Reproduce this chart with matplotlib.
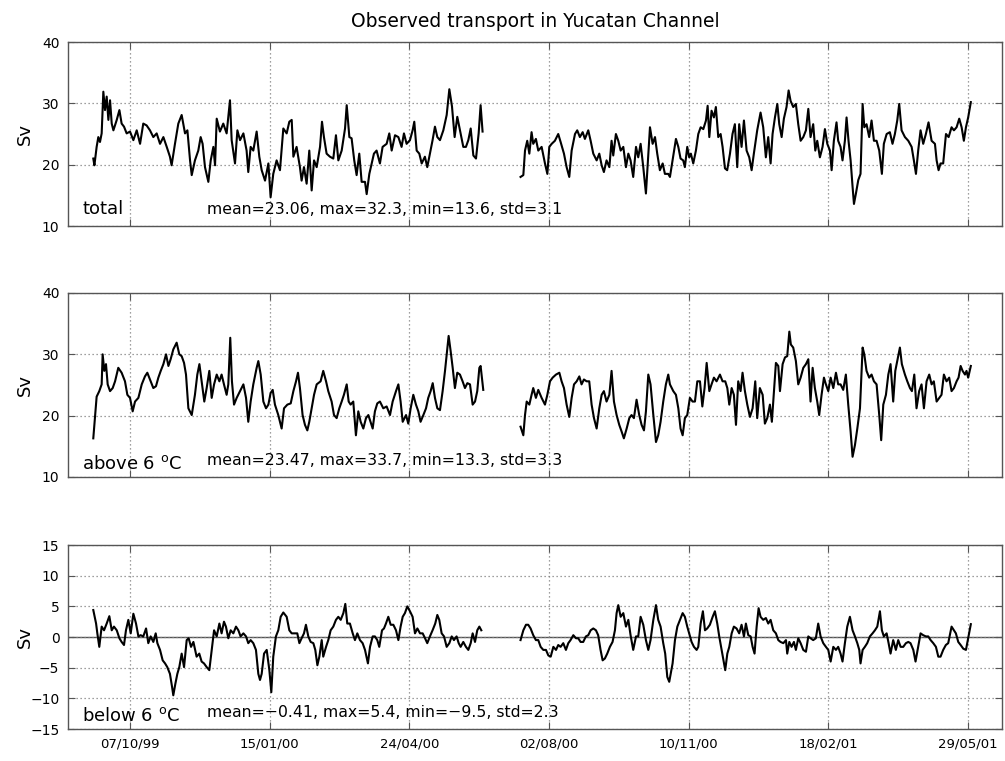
import numpy as np
import matplotlib.pyplot as plt
import matplotlib.dates as mdates

# (day since 07/10/99, transport in Sv); each series has a gap in mid 2000
total_a = [(-26.3, 21.0), (-25.5, 19.9), (-23.9, 22.9), (-22.7, 24.5), (-21.5, 23.7), (-20.3, 25.1),
           (-19.1, 31.9), (-17.9, 28.9), (-16.7, 31.1), (-15.5, 27.3), (-14.3, 30.5), (-13.1, 26.7),
           (-11.9, 25.6), (-9.5, 27.3), (-7.6, 28.9), (-6.0, 26.7), (-4.3, 26.2), (-2.4, 25.1),
           (0.0, 25.4), (2.4, 24.0), (4.8, 25.6), (7.2, 23.4), (9.5, 26.7), (11.9, 26.4), (14.3, 25.6),
           (16.7, 24.5), (19.1, 25.1), (21.5, 23.4), (23.9, 24.5), (26.3, 22.9), (28.6, 21.3),
           (29.8, 19.9), (32.2, 23.4), (34.6, 26.7), (37.0, 28.1), (39.4, 25.1), (41.1, 25.6),
           (43.0, 20.7), (44.2, 18.3), (46.5, 20.7), (48.9, 22.3), (50.6, 24.5), (52.0, 23.4),
           (53.7, 19.6), (56.1, 17.2), (57.8, 20.7), (59.7, 22.9), (60.9, 19.9), (62.1, 27.5),
           (64.4, 25.4), (66.8, 26.7), (69.2, 25.1), (71.6, 30.5), (72.8, 24.0), (75.2, 20.2),
           (76.9, 25.6), (78.8, 24.0), (81.2, 25.1), (83.5, 22.3), (84.7, 18.8), (86.4, 22.9),
           (88.3, 22.3), (90.7, 25.4), (92.6, 21.3), (94.3, 19.1), (96.7, 17.4), (99.1, 20.2),
           (100.7, 14.7), (102.6, 18.5), (105.0, 20.7), (107.4, 19.1), (109.8, 25.9), (112.2, 25.1),
           (114.1, 27.0), (115.8, 27.3), (117.0, 21.3), (119.3, 22.9), (121.7, 19.6), (122.9, 17.4),
           (124.6, 19.6), (126.5, 16.9), (128.4, 22.3), (130.1, 15.8), (131.8, 20.7), (133.7, 19.6),
           (136.1, 22.9), (137.5, 27.0), (138.9, 24.5), (140.8, 21.8), (143.2, 21.3), (145.6, 21.0),
           (147.5, 24.8), (149.2, 20.7), (151.6, 22.3), (154.0, 25.9), (155.2, 29.7), (157.1, 24.5),
           (158.7, 24.3), (160.6, 20.7), (162.3, 18.3), (164.2, 21.8), (165.9, 17.2), (168.3, 17.2),
           (169.5, 15.2), (171.4, 18.5), (173.1, 20.2), (174.7, 21.8), (176.6, 22.3), (179.0, 20.2),
           (180.9, 22.9), (183.8, 23.4), (185.7, 25.1), (187.4, 22.3), (189.8, 24.8), (192.2, 24.5),
           (194.5, 22.9), (196.2, 25.1), (198.1, 23.4), (200.5, 24.0), (202.4, 25.6), (203.6, 27.0),
           (205.3, 22.3), (207.2, 21.8), (208.9, 20.2), (211.2, 21.3), (212.9, 19.6), (214.8, 21.8),
           (216.7, 24.0), (218.4, 26.2), (220.1, 24.5), (222.0, 24.0), (224.4, 25.6), (226.8, 28.1),
           (228.7, 32.3), (230.6, 29.5), (232.5, 24.5), (234.4, 27.8), (236.3, 25.6), (238.7, 22.9),
           (240.6, 22.9), (242.3, 24.0), (244.0, 25.9), (245.9, 21.5), (247.8, 21.0), (249.7, 25.1),
           (251.1, 29.7), (252.5, 25.4)]
total_b = [(279.7, 18.0), (281.7, 18.3), (282.9, 22.3), (284.5, 23.9), (286.0, 21.8), (287.6, 25.3),
           (288.8, 23.4), (290.7, 24.2), (292.4, 22.3), (294.8, 22.9), (297.2, 20.2), (298.9, 18.5),
           (300.3, 22.9), (302.0, 23.4), (304.3, 23.9), (306.7, 25.0), (308.4, 23.7), (310.8, 21.8),
           (312.7, 19.6), (314.6, 18.0), (316.3, 22.3), (318.7, 25.0), (320.3, 25.6), (322.2, 24.5),
           (324.2, 25.3), (325.8, 24.2), (328.2, 25.6), (329.9, 23.9), (331.8, 21.8), (334.2, 20.7),
           (336.1, 21.8), (337.8, 19.9), (339.4, 18.8), (341.3, 20.7), (343.3, 19.6), (344.9, 23.9),
           (346.1, 21.5), (348.0, 25.0), (349.7, 23.9), (351.4, 22.3), (353.3, 22.9), (355.2, 19.6),
           (356.9, 21.8), (358.5, 20.7), (360.4, 18.0), (362.4, 22.9), (364.0, 21.2), (365.7, 23.4),
           (367.6, 19.6), (369.5, 15.3), (371.2, 21.8), (372.4, 26.1), (374.3, 23.4), (376.0, 24.5),
           (377.6, 21.8), (379.5, 19.1), (381.5, 20.2), (383.1, 18.5), (385.5, 18.5), (386.7, 18.0),
           (388.6, 20.7), (391.0, 24.2), (392.7, 22.9), (394.3, 21.0), (396.2, 20.7), (397.4, 19.6),
           (399.1, 22.9), (400.5, 21.2), (401.7, 21.8), (403.4, 20.2), (405.3, 22.3), (407.0, 25.0),
           (408.7, 26.1), (410.6, 25.8), (412.5, 27.2), (413.7, 29.6), (414.9, 24.5), (416.5, 28.8),
           (418.2, 27.7), (419.6, 29.4), (421.3, 24.5), (423.0, 25.0), (424.4, 22.9), (426.1, 19.4),
           (427.7, 19.1), (429.7, 21.8), (431.5, 25.0), (433.2, 26.6), (434.9, 19.6), (436.3, 26.6),
           (438.0, 22.9), (439.7, 27.2), (441.6, 22.3), (443.5, 21.2), (445.2, 19.1), (446.8, 21.8),
           (449.2, 25.6), (451.6, 28.5), (453.5, 26.1), (455.4, 21.2), (457.1, 24.5), (458.8, 20.2),
           (460.2, 25.0), (461.9, 27.7), (463.6, 29.9), (465.0, 26.6), (466.7, 24.5), (468.3, 27.5),
           (470.2, 29.4), (471.7, 32.1), (473.1, 30.4), (475.0, 29.4), (476.9, 29.9), (478.6, 26.6),
           (480.3, 23.9), (482.2, 24.5), (484.1, 25.6), (485.8, 29.1), (487.4, 24.5), (489.3, 26.6),
           (490.8, 22.3), (492.2, 23.9), (494.1, 21.2), (496.0, 22.9), (497.7, 25.8), (499.4, 23.4),
           (501.3, 22.3), (502.5, 19.1), (504.1, 23.9), (506.0, 26.9), (507.2, 23.9), (508.9, 22.9),
           (510.3, 20.7), (512.0, 23.9), (513.2, 27.7), (514.6, 23.9), (516.1, 20.7), (517.5, 16.4),
           (518.5, 13.6), (519.9, 15.3), (521.6, 17.5), (523.2, 18.5), (524.7, 29.9), (525.9, 26.1),
           (527.5, 26.6), (529.4, 24.5), (531.1, 27.2), (532.8, 23.9), (534.7, 23.9), (536.6, 22.3),
           (538.5, 18.5), (539.9, 23.4), (541.9, 25.0), (544.2, 25.3), (546.1, 23.4), (547.8, 25.0),
           (549.5, 27.2), (550.9, 29.9), (552.6, 25.6), (555.0, 24.5), (557.4, 23.9), (559.8, 22.9),
           (561.4, 20.7), (562.9, 18.5), (564.5, 22.3), (566.2, 25.6), (568.1, 23.4), (570.0, 25.0),
           (571.9, 26.9), (574.1, 23.9), (576.5, 23.4), (577.7, 20.7), (579.1, 19.1), (580.5, 20.2),
           (582.4, 20.2), (584.4, 25.0), (586.3, 24.5), (588.4, 26.1), (590.1, 25.6), (592.0, 26.1),
           (593.9, 27.5), (595.6, 26.1), (597.2, 23.9), (598.7, 26.1), (600.3, 27.7), (602.2, 30.2)]

above_a = [(-26.3, 16.3), (-25.1, 19.6), (-23.9, 23.1), (-22.0, 24.0), (-20.3, 25.1), (-19.6, 30.0),
           (-18.4, 27.3), (-17.2, 28.4), (-16.0, 25.1), (-14.3, 24.0), (-12.4, 24.5), (-10.7, 25.6),
           (-8.4, 27.8), (-6.0, 27.0), (-3.6, 25.6), (-1.9, 23.4), (0.0, 22.9), (1.9, 20.7), (3.6, 22.3),
           (6.0, 22.9), (8.4, 25.1), (10.7, 26.4), (12.4, 27.0), (14.8, 25.6), (16.7, 24.5), (18.6, 24.8),
           (20.3, 26.2), (22.0, 27.3), (23.9, 28.4), (25.8, 30.0), (27.5, 28.1), (29.1, 29.2),
           (31.0, 30.8), (33.4, 31.9), (35.3, 30.0), (37.0, 29.7), (38.7, 28.6), (40.1, 26.7),
           (41.8, 21.2), (44.2, 20.1), (46.5, 23.4), (48.2, 26.7), (49.7, 28.4), (51.3, 25.6),
           (53.2, 22.3), (54.9, 24.5), (56.8, 27.3), (58.5, 22.9), (60.2, 25.1), (62.1, 26.7),
           (64.0, 25.6), (65.6, 26.7), (67.3, 25.1), (69.2, 23.4), (70.4, 25.1), (71.8, 32.7),
           (73.0, 25.6), (74.5, 21.8), (76.4, 22.9), (78.8, 24.0), (81.2, 25.1), (83.1, 22.9),
           (84.7, 19.0), (86.4, 22.3), (88.3, 25.1), (90.7, 27.8), (91.9, 28.9), (93.6, 26.7),
           (95.5, 22.3), (97.4, 21.2), (99.1, 21.8), (100.7, 23.7), (102.2, 24.2), (103.8, 21.8),
           (106.2, 20.1), (108.6, 17.9), (110.3, 21.2), (112.7, 21.8), (115.1, 22.0), (117.0, 24.0),
           (118.9, 25.6), (120.3, 27.0), (121.7, 24.5), (123.6, 20.1), (125.3, 18.5), (127.0, 17.6),
           (128.4, 19.0), (130.1, 21.2), (131.8, 23.4), (133.7, 25.1), (136.5, 25.6), (138.4, 27.3),
           (140.4, 25.6), (142.0, 24.0), (144.4, 22.3), (146.1, 20.1), (148.0, 19.6), (149.9, 21.2),
           (151.6, 22.3), (153.2, 23.4), (155.2, 25.1), (156.6, 22.3), (158.0, 21.8), (159.9, 22.3),
           (161.8, 16.8), (163.5, 20.7), (165.2, 19.0), (167.1, 17.9), (169.0, 19.6), (170.7, 20.1),
           (173.8, 17.9), (175.4, 20.7), (177.1, 22.0), (179.0, 22.3), (181.4, 21.2), (183.8, 21.5),
           (186.2, 20.1), (188.1, 22.3), (190.5, 24.0), (192.2, 25.1), (193.8, 22.3), (195.3, 19.0),
           (197.7, 20.1), (199.3, 18.7), (201.0, 21.2), (202.9, 23.4), (204.8, 21.8), (206.5, 20.7),
           (208.1, 19.0), (210.1, 20.1), (212.0, 21.2), (213.6, 22.9), (215.3, 24.0), (216.8, 25.3),
           (218.4, 22.9), (220.1, 21.2), (222.0, 20.9), (223.9, 24.0), (225.6, 27.3), (226.8, 30.0),
           (228.2, 33.0), (229.6, 30.6), (231.1, 27.8), (232.7, 24.5), (234.4, 27.0), (236.3, 26.7),
           (238.2, 25.6), (239.9, 24.5), (241.6, 25.3), (243.5, 25.1), (245.4, 21.8), (247.1, 22.3),
           (248.7, 24.0), (250.2, 27.8), (251.1, 28.1), (253.0, 24.2)]
above_b = [(279.7, 18.2), (281.7, 16.8), (282.9, 20.1), (284.1, 22.3), (286.0, 21.8), (287.6, 23.4),
           (288.8, 24.5), (290.7, 22.9), (292.4, 24.2), (294.8, 22.9), (297.2, 21.8), (298.9, 23.4),
           (300.8, 25.6), (302.7, 26.2), (305.1, 26.7), (307.5, 27.0), (309.1, 25.6), (310.8, 24.5),
           (312.7, 21.8), (314.6, 19.8), (316.3, 22.9), (318.0, 25.1), (319.9, 25.6), (321.8, 26.4),
           (323.4, 25.1), (325.1, 25.9), (327.0, 25.6), (328.9, 25.6), (330.6, 21.8), (332.3, 19.6),
           (334.2, 17.9), (336.1, 21.2), (337.8, 23.4), (339.4, 24.0), (341.3, 22.3), (343.3, 23.4),
           (344.9, 27.3), (346.6, 22.3), (348.5, 20.1), (350.4, 18.5), (352.1, 17.4), (353.7, 16.3),
           (355.7, 17.9), (357.6, 19.6), (359.2, 20.1), (360.9, 19.6), (362.8, 22.6), (364.7, 20.1),
           (366.4, 18.5), (368.1, 17.6), (369.5, 20.7), (371.2, 26.7), (372.8, 25.1), (374.8, 20.1),
           (376.7, 15.7), (378.3, 16.8), (380.0, 19.0), (381.9, 22.3), (383.8, 25.1), (385.5, 26.7),
           (386.7, 25.1), (389.1, 24.0), (391.0, 23.4), (392.7, 21.2), (394.3, 17.9), (395.8, 16.8),
           (397.4, 19.6), (399.1, 20.1), (401.0, 22.9), (402.9, 22.3), (404.6, 22.3), (406.3, 25.6),
           (408.2, 25.6), (409.9, 21.5), (411.5, 24.5), (413.0, 28.6), (414.9, 24.0), (416.5, 25.1),
           (418.2, 26.2), (420.1, 25.6), (422.5, 26.7), (424.4, 25.6), (426.3, 25.6), (427.8, 24.5),
           (429.2, 21.8), (430.9, 24.5), (432.5, 23.4), (434.0, 18.5), (435.6, 25.6), (437.3, 24.0),
           (438.7, 27.0), (440.4, 24.0), (442.1, 21.8), (444.0, 19.8), (445.9, 21.2), (447.8, 25.6),
           (449.2, 19.6), (451.1, 24.5), (453.1, 23.4), (454.7, 18.7), (456.4, 19.6), (458.3, 21.8),
           (459.7, 19.0), (461.2, 24.0), (462.6, 28.6), (464.3, 28.1), (465.5, 24.0), (467.4, 28.4),
           (469.1, 29.5), (470.7, 29.7), (472.2, 33.7), (473.3, 31.6), (475.0, 31.1), (476.9, 28.9),
           (478.6, 25.1), (480.3, 26.2), (482.2, 27.8), (484.1, 28.4), (485.8, 29.2), (487.4, 22.3),
           (488.9, 27.8), (490.5, 24.5), (492.2, 22.3), (493.6, 20.1), (495.3, 23.4), (497.0, 26.2),
           (498.4, 25.1), (500.1, 24.0), (501.8, 26.2), (503.7, 24.5), (505.6, 27.0), (507.2, 25.1),
           (508.9, 25.1), (510.8, 24.2), (512.7, 26.7), (514.4, 21.8), (516.1, 17.4), (517.5, 13.3),
           (519.2, 15.2), (520.9, 17.9), (522.8, 21.2), (524.7, 31.1), (525.9, 30.0), (527.5, 27.3),
           (529.4, 26.2), (531.1, 26.7), (532.8, 25.6), (534.7, 25.1), (536.6, 20.1), (538.0, 16.0),
           (539.5, 21.8), (541.4, 23.4), (543.1, 26.7), (544.7, 28.4), (546.6, 22.3), (548.1, 27.3),
           (549.5, 28.9), (551.4, 31.1), (552.8, 28.4), (555.0, 26.7), (556.7, 25.6), (558.6, 24.5),
           (560.0, 24.0), (561.7, 26.7), (563.3, 21.2), (565.2, 24.0), (566.9, 25.1), (568.6, 21.2),
           (570.5, 25.6), (572.4, 26.7), (574.1, 25.1), (575.7, 25.6), (577.7, 22.3), (579.6, 22.9),
           (581.2, 23.4), (582.9, 26.7), (584.8, 25.6), (586.7, 26.2), (588.4, 24.0), (590.1, 24.5),
           (592.0, 25.6), (593.4, 26.2), (594.9, 28.1), (596.3, 27.3), (598.0, 26.7), (599.1, 27.3),
           (600.3, 26.2), (602.2, 28.1)]

below_a = [(-26.3, 4.4), (-24.3, 2.2), (-23.4, 0.6), (-22.0, -1.6), (-20.3, 1.7), (-18.6, 1.1),
           (-16.7, 2.2), (-14.8, 3.4), (-13.1, 1.1), (-11.5, 1.7), (-9.5, 1.1), (-7.6, -0.2),
           (-6.0, -0.8), (-4.3, -1.3), (-2.9, 1.1), (-1.2, 2.8), (0.5, 0.6), (2.4, 3.8), (4.3, 2.2),
           (6.0, 0.1), (7.6, 0.3), (9.5, 0.1), (11.5, 1.4), (13.1, -1.0), (14.8, 0.1), (16.7, -0.8),
           (18.4, 0.6), (19.6, -1.0), (21.5, -2.1), (23.4, -3.8), (25.1, -4.3), (26.7, -4.9),
           (28.6, -6.0), (30.1, -8.1), (31.0, -9.5), (32.5, -7.6), (33.9, -6.0), (35.3, -4.9),
           (37.0, -2.7), (38.7, -4.9), (40.6, -0.5), (42.0, -0.2), (43.7, -1.6), (45.4, -0.8),
           (47.7, -3.2), (49.6, -2.7), (51.3, -4.0), (53.0, -4.3), (54.9, -4.9), (56.8, -5.4),
           (58.5, -2.1), (60.2, 1.1), (62.1, 0.1), (64.0, 2.2), (65.6, 0.6), (67.3, 2.5), (68.7, 1.7),
           (70.4, -0.2), (72.1, 1.1), (74.0, 0.6), (75.9, 1.7), (77.6, 1.1), (79.2, 0.1), (81.2, 0.6),
           (83.1, 0.1), (84.7, -1.0), (86.4, -0.5), (88.3, -1.0), (90.2, -2.1), (91.9, -6.0),
           (93.1, -7.0), (94.3, -6.0), (96.0, -2.7), (97.9, -2.1), (99.8, -5.4), (101.2, -9.0),
           (102.6, -3.2), (104.5, 0.1), (106.2, 1.1), (107.9, 3.3), (109.8, 4.0), (112.2, 3.3),
           (114.1, 1.1), (115.8, 0.6), (118.2, 0.6), (119.8, 0.6), (121.3, -1.0), (122.9, -0.2),
           (124.6, 0.6), (126.0, 2.0), (127.7, 0.1), (129.4, -0.8), (131.3, -1.0), (132.7, -2.1),
           (134.2, -4.6), (135.6, -3.2), (137.3, -0.5), (138.4, -3.2), (140.4, -1.6), (142.0, -0.5),
           (143.7, 1.1), (145.6, 1.7), (147.5, 2.8), (149.2, 3.3), (150.9, 2.8), (152.8, 3.9),
           (154.2, 5.4), (155.6, 2.2), (157.5, 2.2), (159.5, 0.6), (161.1, -0.5), (162.8, 0.6),
           (164.7, -0.5), (166.6, -1.0), (168.3, -2.1), (170.4, -4.3), (171.9, -1.6), (173.8, 0.1),
           (175.4, 0.1), (177.1, -0.5), (178.5, -1.6), (180.5, 1.1), (181.9, 1.4), (183.3, 2.2),
           (185.0, 3.3), (186.7, 2.0), (188.6, 2.0), (190.5, 1.1), (192.2, -0.5), (193.8, 1.7),
           (195.3, 3.3), (196.9, 3.9), (198.6, 5.0), (200.5, 4.2), (202.4, 3.3), (204.1, 0.6),
           (205.8, 1.4), (207.7, 0.6), (209.6, 0.6), (211.3, -0.2), (212.9, -1.0), (214.8, 0.1),
           (216.7, 1.1), (218.6, 2.2), (220.1, 3.6), (221.5, 2.8), (223.2, 0.6), (224.9, 0.1),
           (226.8, -1.6), (228.7, -1.0), (230.4, 0.1), (232.0, -0.5), (233.9, 0.1), (235.4, -1.0),
           (236.8, -1.6), (238.7, -0.8), (240.6, -1.6), (242.3, -2.1), (244.0, -1.0), (245.4, 0.6),
           (247.1, -0.8), (248.7, 1.1), (250.2, 1.7), (251.6, 1.1)]
below_b = [(279.7, -0.5), (281.7, 1.1), (283.6, 2.0), (285.2, 2.0), (286.9, 1.4), (288.8, 0.3),
           (290.7, -0.5), (292.4, -0.5), (294.1, -1.6), (296.0, -2.1), (297.9, -2.1), (299.6, -3.0),
           (301.3, -3.2), (303.2, -1.6), (305.1, -2.1), (306.7, -1.3), (308.4, -1.6), (310.3, -1.0),
           (312.2, -2.1), (313.9, -1.0), (315.5, -0.5), (317.5, 0.3), (319.4, -0.2), (321.0, -0.2),
           (322.7, -0.8), (324.6, -0.8), (326.5, 0.1), (328.2, 0.3), (329.9, 1.1), (331.8, 1.4),
           (333.7, 1.1), (335.3, 0.3), (337.0, -2.1), (338.5, -3.8), (340.1, -3.5), (341.8, -2.7),
           (343.7, -1.6), (345.6, -0.8), (347.3, 1.1), (348.5, 3.9), (349.7, 5.2), (351.4, 3.3),
           (353.3, 3.9), (355.2, 1.7), (356.9, 2.8), (358.5, 0.3), (360.4, -2.1), (362.4, 0.1),
           (364.0, 0.1), (365.7, 3.3), (367.6, 2.0), (369.5, -0.5), (371.2, -2.1), (372.8, -0.5),
           (374.8, 2.8), (376.7, 5.2), (378.3, 2.8), (380.0, 1.7), (381.9, -1.0), (383.3, -2.7),
           (384.8, -6.5), (386.2, -7.3), (388.6, -4.3), (390.3, -0.5), (392.0, 1.7), (393.9, 2.8),
           (395.8, 3.9), (397.4, 3.3), (399.1, 1.7), (400.5, 0.6), (402.2, -0.8), (403.9, -1.6),
           (405.8, -2.1), (407.0, -1.6), (408.7, 2.2), (410.3, 4.2), (411.8, 1.1), (413.4, 1.4),
           (415.3, 2.0), (417.3, 3.3), (418.9, 4.2), (420.6, 2.2), (422.0, 0.1), (423.7, -2.1),
           (425.4, -4.3), (426.3, -5.4), (427.8, -2.7), (429.2, -1.6), (430.9, 0.6), (432.5, 1.7),
           (434.4, 1.4), (436.3, 0.6), (438.0, 2.0), (439.7, 0.1), (441.1, 2.2), (442.8, 0.3),
           (444.5, 0.1), (445.9, -1.6), (447.3, -2.7), (448.8, 1.7), (450.2, 4.7), (451.6, 3.3),
           (453.5, 2.8), (455.4, 3.1), (457.1, 2.2), (458.8, 2.8), (460.7, 1.1), (462.6, 0.6),
           (464.3, -0.5), (465.9, -0.8), (467.9, -1.0), (469.8, -0.5), (470.7, -2.7), (472.2, -0.8),
           (473.8, -1.6), (475.5, -0.8), (476.9, -2.1), (478.6, -0.2), (480.3, -1.0), (482.2, -2.1),
           (484.1, -2.4), (485.8, 0.1), (487.4, -0.2), (489.3, -0.5), (491.2, -0.2), (492.9, 2.2),
           (494.6, 0.1), (496.5, -1.0), (498.4, -1.6), (500.1, -2.1), (501.8, -4.0), (503.7, -1.6),
           (505.6, -2.1), (507.2, -1.6), (508.9, -2.7), (510.3, -4.0), (512.0, -1.0), (513.7, 1.7),
           (515.6, 3.3), (517.5, 1.1), (519.2, 0.1), (520.9, -1.0), (522.3, -2.1), (523.2, -4.3),
           (524.7, -2.1), (526.3, -1.6), (528.0, -1.0), (529.9, 0.1), (531.8, 0.6), (533.5, 1.1),
           (535.2, 1.7), (537.1, 4.2), (538.5, 1.1), (539.9, 0.1), (541.9, 0.6), (543.3, -1.0),
           (544.7, -2.7), (546.6, -0.5), (548.5, -2.1), (550.2, -0.5), (551.9, -1.6), (553.8, -1.6),
           (555.7, -1.0), (557.4, -0.8), (559.0, -1.0), (561.0, -2.1), (562.6, -4.0), (564.5, -1.6),
           (566.2, 0.6), (568.1, 0.3), (570.0, 0.1), (571.7, 0.1), (573.4, -0.5), (575.3, -1.0),
           (577.2, -1.6), (578.9, -3.2), (580.5, -3.2), (582.4, -2.1), (584.3, -1.3), (586.0, -1.0),
           (588.4, 1.7), (590.1, 1.1), (591.5, 0.6), (593.2, -0.8), (594.9, -1.3), (596.8, -1.9),
           (598.7, -2.1), (600.3, -0.2), (602.2, 2.1)]

names = ['total', 'above 6 $^{\\mathrm{o}}$C', 'below 6 $^{\\mathrm{o}}$C']
stats = ['mean=23.06, max=32.3, min=13.6, std=3.1',
         'mean=23.47, max=33.7, min=13.3, std=3.3',
         'mean=\u22120.41, max=5.4, min=\u22129.5, std=2.3']
tick_days = [0, 100, 200, 300, 400, 500, 600]
tick_labels = ['07/10/99', '15/01/00', '24/04/00', '02/08/00', '10/11/00', '18/02/01', '29/05/01']

t0 = mdates.date2num(np.datetime64('1999-10-07'))


def to_xy(pairs_a, pairs_b):
    # join the two stretches with a NaN so the gap is left blank
    a = np.array(pairs_a)
    b = np.array(pairs_b)
    d = np.concatenate([a[:, 0], [np.nan], b[:, 0]])
    v = np.concatenate([a[:, 1], [np.nan], b[:, 1]])
    return t0 + d, v


series = [to_xy(total_a, total_b), to_xy(above_a, above_b), to_xy(below_a, below_b)]
ylims = [(10, 40), (10, 40), (-15, 15)]
yticks = [[10, 20, 30, 40], [10, 20, 30, 40], [-15, -10, -5, 0, 5, 10, 15]]
bottoms = [0.703, 0.3732, 0.042]
name_y = [0.065, 0.043, 0.043]

fig = plt.figure(figsize=(10.05, 7.61), dpi=100)
axes = []
for i in range(3):
    ax = fig.add_axes([0.0674, bottoms[i], 0.930, 0.2418])
    x, v = series[i]
    ax.grid(True, color='#808080', linestyle=(0, (1, 2.2)), linewidth=0.9)
    if i == 2:
        ax.axhline(0, color='#555555', linewidth=1.0, zorder=1.5)
    ax.plot(x, v, color='black', linewidth=1.5, zorder=3)
    ax.set_xlim(t0 - 44.6, t0 + 624.8)
    ax.set_ylim(*ylims[i])
    ax.set_yticks(yticks[i])
    ax.set_xticks([t0 + d for d in tick_days])
    if i == 2:
        ax.set_xticklabels(tick_labels)
    else:
        ax.set_xticklabels([])
    ax.tick_params(direction='in', length=5, top=True, right=True, color='#555555',
                   labelsize=10, pad=6)
    ax.tick_params(axis='x', labelsize=9.5)
    for s in ax.spines.values():
        s.set_color('#555555')
        s.set_linewidth(1.0)
    ax.set_ylabel('Sv', fontsize=13)
    ax.yaxis.set_label_coords(-0.036, 0.5)
    ax.text(0.0153, name_y[i], names[i], transform=ax.transAxes, fontsize=13,
            va='baseline', ha='left')
    ax.text(0.149, 0.065, stats[i], transform=ax.transAxes, fontsize=11.3,
            va='baseline', ha='left')
    axes.append(ax)

axes[0].set_title('Observed transport in Yucatan Channel', fontsize=13.5, pad=11)

fig.savefig('out.png', dpi=100)
